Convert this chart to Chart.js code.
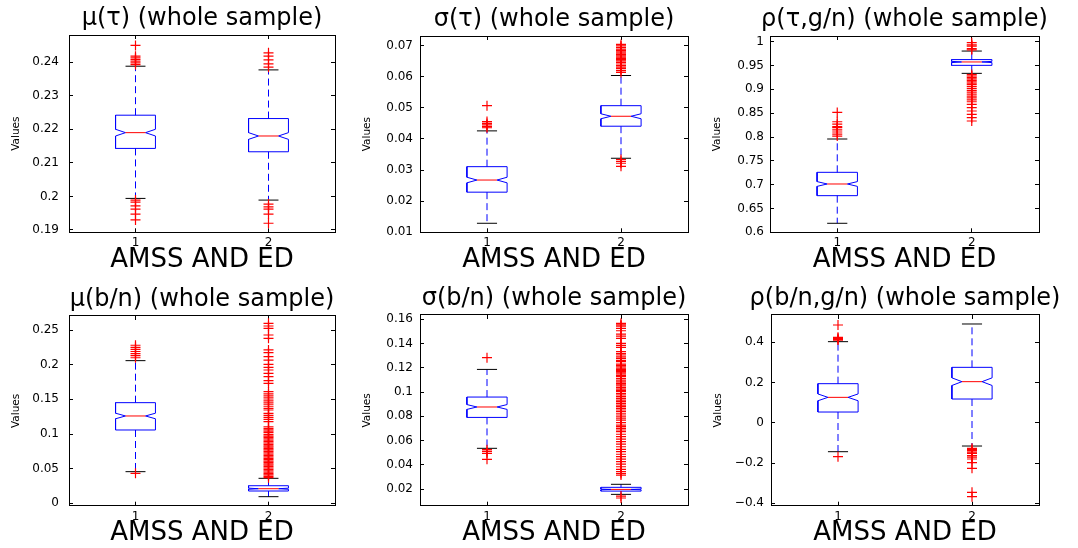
<!DOCTYPE html>
<html>
<head>
<meta charset="utf-8">
<script src="https://cdn.jsdelivr.net/npm/chart.js@4/dist/chart.umd.min.js"></script>
<style>
html,body{margin:0;padding:0;background:#fff;overflow:hidden;width:1078px;height:548px;position:relative;}
canvas{position:absolute;}
</style>
</head>
<body>
<script>
// ---------------- data ----------------
const titles = ['μ(τ) (whole sample)', 'σ(τ) (whole sample)', 'ρ(τ,g/n) (whole sample)',
                'μ(b/n) (whole sample)', 'σ(b/n) (whole sample)', 'ρ(b/n,g/n) (whole sample)'];
const categories = ['1', '2'];
const xLabel = 'AMSS AND ED';
const yLabel = 'Values';

const yTicks = [
  [0.19, 0.2, 0.21, 0.22, 0.23, 0.24],
  [0.01, 0.02, 0.03, 0.04, 0.05, 0.06, 0.07],
  [0.6, 0.65, 0.7, 0.75, 0.8, 0.85, 0.9, 0.95, 1],
  [0, 0.05, 0.1, 0.15, 0.2, 0.25],
  [0.02, 0.04, 0.06, 0.08, 0.1, 0.12, 0.14, 0.16],
  [-0.4, -0.2, 0, 0.2, 0.4]
];
const yMin = [0.1893, 0.01, 0.6, -0.0034, 0.00625, -0.4116];
const yMax = [0.2481, 0.0731, 1.012, 0.2702, 0.1636, 0.5358];

const q1 = [[0.2143, 0.2133], [0.0229, 0.0441], [0.6769, 0.9504], [0.1058, 0.0178], [0.0791, 0.0183], [0.0538, 0.1184]];
const medians = [[0.2190, 0.2180], [0.0268, 0.0473], [0.7014, 0.9575], [0.1260, 0.0211], [0.0877, 0.0197], [0.1267, 0.2046]];
const q3 = [[0.2242, 0.2232], [0.0311, 0.0507], [0.7259, 0.9625], [0.1452, 0.0254], [0.0959, 0.0214], [0.1946, 0.2758]];
const notchHalf = [[0.0010, 0.0010], [0.0009, 0.0008], [0.005, 0.0013], [0.004, 0.0008], [0.002, 0.0003], [0.017, 0.019]];
const whiskerLow = [[0.1994, 0.1989], [0.0129, 0.0338], [0.6189, 0.9336], [0.0457, 0.0096], [0.0536, 0.0156], [-0.1433, -0.1151]];
const whiskerHigh = [[0.2388, 0.2377], [0.0426, 0.0604], [0.7958, 0.9804], [0.2058, 0.0361], [0.1187, 0.0239], [0.4033, 0.4911]];

const outliers1 = [
  [0.2450, 0.2418, 0.2413, 0.2408, 0.2403, 0.2398, 0.2393, 0.1989, 0.1983, 0.1972, 0.1962, 0.1947, 0.1930],
  [0.2428, 0.2418, 0.2407, 0.2395, 0.2385, 0.1977, 0.1969, 0.1962, 0.1947, 0.1920]
];
const outliers2 = [
  [0.0507, 0.0456, 0.0450, 0.0445, 0.0440, 0.0436],
  [0.0704, 0.0699, 0.0694, 0.0689, 0.0685, 0.0680, 0.0676, 0.0671, 0.0667, 0.0663, 0.0659, 0.0655,
   0.0651, 0.0646, 0.0641, 0.0636, 0.0631, 0.0626, 0.0620, 0.0614, 0.0334, 0.0328, 0.0322, 0.0312]
];
const outliers3 = [
  [0.8517, 0.832, 0.827, 0.822, 0.8195, 0.815, 0.8105, 0.806, 0.802],
  [0.9979, 0.9935, 0.9909, 0.9853, 0.983, 0.931, 0.928, 0.925, 0.922, 0.919, 0.916, 0.913, 0.910,
   0.906, 0.902, 0.898, 0.894, 0.890, 0.886, 0.882, 0.878, 0.874, 0.8686, 0.8615, 0.8546, 0.8476, 0.8405, 0.8336]
];
const outliers4 = [
  [0.228, 0.225, 0.222, 0.219, 0.216, 0.213, 0.210, 0.0433],
  [0.2597, 0.2558, 0.2524, 0.2428, 0.238, 0.2212, 0.2173, 0.2115, 0.2067, 0.2005, 0.1962, 0.1923,
   0.1875, 0.1827, 0.1769, 0.1731, 0.161, 0.158, 0.155, 0.152, 0.149, 0.146, 0.143, 0.140, 0.137,
   0.1346, 0.1298, 0.127, 0.124, 0.121, 0.1178, 0.1105, 0.108, 0.106, 0.104, 0.102, 0.099, 0.097,
   0.095, 0.093, 0.091, 0.089, 0.087, 0.085, 0.083, 0.081, 0.079, 0.077, 0.075, 0.073, 0.071,
   0.069, 0.067, 0.065, 0.063, 0.061, 0.059, 0.057, 0.055, 0.053, 0.051, 0.049, 0.047, 0.045,
   0.043, 0.041, 0.039, 0.037]
];
const outliers5 = [
  [0.1284, 0.0525, 0.0510, 0.0495, 0.0445],
  [0.1567, 0.1555, 0.1545, 0.1526, 0.1506, 0.1479, 0.1462, 0.1443, 0.1402, 0.1385, 0.1369, 0.1333,
   0.1318, 0.1306, 0.1290, 0.1278, 0.1262, 0.1251, 0.1231, 0.1220, 0.1209, 0.1197, 0.1187, 0.1178,
   0.1168, 0.1158, 0.1149, 0.1138, 0.1127, 0.1112, 0.1099, 0.1085, 0.1072, 0.1060, 0.1050, 0.1037,
   0.1025, 0.1013, 0.1003, 0.0988, 0.0976, 0.0962, 0.0948, 0.0934, 0.0921, 0.0907, 0.0893, 0.0880,
   0.0866, 0.0852, 0.0838, 0.0820, 0.0802, 0.0785, 0.0769, 0.0748, 0.0728, 0.0715, 0.0701, 0.0687,
   0.0673, 0.0652, 0.0632, 0.0611, 0.0591, 0.0570, 0.0549, 0.0528, 0.0508, 0.0487, 0.0467, 0.0446,
   0.0426, 0.0405, 0.0384, 0.0363, 0.0343, 0.0328, 0.0315, 0.0142, 0.0126]
];
const outliers6 = [
  [0.486, 0.425, 0.420, 0.415, 0.411, -0.168],
  [-0.1267, -0.132, -0.1383, -0.145, -0.1516, -0.1631, -0.17, -0.1797, -0.1979, -0.2261, -0.3453, -0.3669]
];
const outliers = [outliers1, outliers2, outliers3, outliers4, outliers5, outliers6];

// ---------------- layout & style ----------------
const panels = [
  {L: 69,  R: 335,  T: 35,  B: 232.3, gap: 10},
  {L: 420, R: 688,  T: 36,  B: 232.3, gap: 7},
  {L: 770, R: 1039, T: 36,  B: 232.3, gap: 6},
  {L: 69,  R: 335,  T: 316, B: 505.7, gap: 10},
  {L: 420, R: 688,  T: 315, B: 505.7, gap: 7},
  {L: 771, R: 1039, T: 315, B: 505.7, gap: 7}
];
const FONT = '"DejaVu Sans", "Liberation Sans", sans-serif';
const BLUE = '#0000ff', RED = '#ff0000', BLACK = '#000000';
const BOX_HALF = 0.15, NOTCH_HALF_W = 0.075, CAP_HALF = 0.075;
const TICK_LEN = -4;

Chart.defaults.color = BLACK;
Chart.defaults.font.family = FONT;

function fmt(v) {
  return String(v).replace('-', '\u2212');
}

function buildDatasets(i) {
  const ds = [];
  for (let g = 0; g < 2; g++) {
    const c = g + 1;
    ds.push({
      data: outliers[i][g].map(v => ({x: c, y: v})),
      showLine: false, pointStyle: 'cross', pointRadius: 5,
      borderColor: RED, backgroundColor: RED, pointBorderWidth: 1.2, borderWidth: 1.2
    });
  }
  for (let g = 0; g < 2; g++) {
    const c = g + 1;
    const lo = q1[i][g], hi = q3[i][g], m = medians[i][g], n = notchHalf[i][g];
    const line = (pts, color, dash) => ({
      data: pts, showLine: true, pointRadius: 0, borderColor: color, borderWidth: 1,
      borderDash: dash || [], fill: false, tension: 0
    });
    // caps
    ds.push(line([{x: c - CAP_HALF, y: whiskerHigh[i][g]}, {x: c + CAP_HALF, y: whiskerHigh[i][g]}], BLACK));
    ds.push(line([{x: c - CAP_HALF, y: whiskerLow[i][g]}, {x: c + CAP_HALF, y: whiskerLow[i][g]}], BLACK));
    // median
    ds.push(line([{x: c - NOTCH_HALF_W, y: m}, {x: c + NOTCH_HALF_W, y: m}], RED));
    // notched box
    ds.push(line([
      {x: c - BOX_HALF, y: hi}, {x: c - BOX_HALF, y: m + n}, {x: c - NOTCH_HALF_W, y: m},
      {x: c - BOX_HALF, y: m - n}, {x: c - BOX_HALF, y: lo}, {x: c + BOX_HALF, y: lo},
      {x: c + BOX_HALF, y: m - n}, {x: c + NOTCH_HALF_W, y: m}, {x: c + BOX_HALF, y: m + n},
      {x: c + BOX_HALF, y: hi}, {x: c - BOX_HALF, y: hi}
    ], BLUE));
    // whiskers
    ds.push(line([{x: c, y: hi}, {x: c, y: whiskerHigh[i][g]}], BLUE, [7, 4]));
    ds.push(line([{x: c, y: lo}, {x: c, y: whiskerLow[i][g]}], BLUE, [7, 4]));
  }
  return ds;
}

function makePanel(i) {
  const p = panels[i];
  const M = 70;
  const titleSize = 24, titleLH = titleSize * 1.2, titlePadB = 1.6;
  const top = Math.floor(p.T - titleLH - titlePadB);
  const titlePadT = p.T - titleLH - titlePadB - top;
  const bottom = Math.ceil(p.B + 45);
  const xH = bottom - p.B;
  const left = Math.round(p.L - M);
  const width = Math.round(p.R + M) - left;
  const height = bottom - top;
  const leftW = p.L - left;
  const rightW = left + width - p.R;
  const xTitleSize = 26, xTitleLH = xTitleSize * 1.2;
  const yTitleSize = 10.5, yTitleLH = yTitleSize * 1.2;
  const tickSize = 12;
  const tickLH = tickSize * 1.2;

  const cv = document.createElement('canvas');
  cv.width = width; cv.height = height;
  cv.style.left = left + 'px'; cv.style.top = top + 'px';
  cv.style.width = width + 'px'; cv.style.height = height + 'px';
  document.body.appendChild(cv);

  const ySetTicks = s => { s.ticks = yTicks[i].map(v => ({value: v})); };
  const xSetTicks = s => { s.ticks = categories.map((_, k) => ({value: k + 1})); };
  const gridOpts = {drawOnChartArea: false, drawTicks: true, tickLength: TICK_LEN, color: BLACK, tickColor: BLACK, lineWidth: 1};
  const borderOpts = {display: true, color: BLACK, width: 1};

  new Chart(cv, {
    type: 'scatter',
    data: {datasets: buildDatasets(i)},
    options: {
      responsive: false, animation: false, events: [],
      layout: {padding: 0},
      plugins: {
        legend: {display: false}, tooltip: {enabled: false},
        title: {display: true, text: titles[i], color: BLACK,
                font: {family: FONT, size: titleSize, weight: 'normal', lineHeight: 1.2},
                padding: {top: titlePadT, bottom: titlePadB}}
      },
      scales: {
        x: {
          type: 'linear', position: 'bottom', min: 0.5, max: 2.5,
          afterBuildTicks: xSetTicks,
          afterFit: s => { s.height = xH; },
          ticks: {font: {size: tickSize}, padding: 11 - tickLH / 2 - TICK_LEN, maxRotation: 0,
                  callback: v => categories[Math.round(v) - 1]},
          grid: gridOpts, border: borderOpts,
          title: {display: true, text: xLabel, font: {size: xTitleSize, lineHeight: 1.2},
                  padding: {top: 0, bottom: xH - xTitleLH / 2 - 27.5}}
        },
        x2: {
          type: 'linear', position: 'top', min: 0.5, max: 2.5,
          afterBuildTicks: xSetTicks,
          afterFit: s => { s.height = 0; },
          ticks: {display: false}, grid: gridOpts, border: borderOpts
        },
        y: {
          type: 'linear', position: 'left', min: yMin[i], max: yMax[i],
          afterBuildTicks: ySetTicks,
          afterFit: s => { s.width = leftW; },
          ticks: {font: {size: tickSize}, padding: p.gap - TICK_LEN, callback: v => fmt(v)},
          grid: gridOpts, border: borderOpts,
          title: {display: true, text: yLabel, font: {size: yTitleSize, lineHeight: 1.2},
                  padding: {top: leftW - 52.5 - yTitleLH / 2, bottom: 0}}
        },
        y2: {
          type: 'linear', position: 'right', min: yMin[i], max: yMax[i],
          afterBuildTicks: ySetTicks,
          afterFit: s => { s.width = rightW; },
          ticks: {display: false}, grid: gridOpts, border: borderOpts
        }
      }
    }
  });
}

for (let i = 0; i < 6; i++) makePanel(i);
</script>
</body>
</html>
